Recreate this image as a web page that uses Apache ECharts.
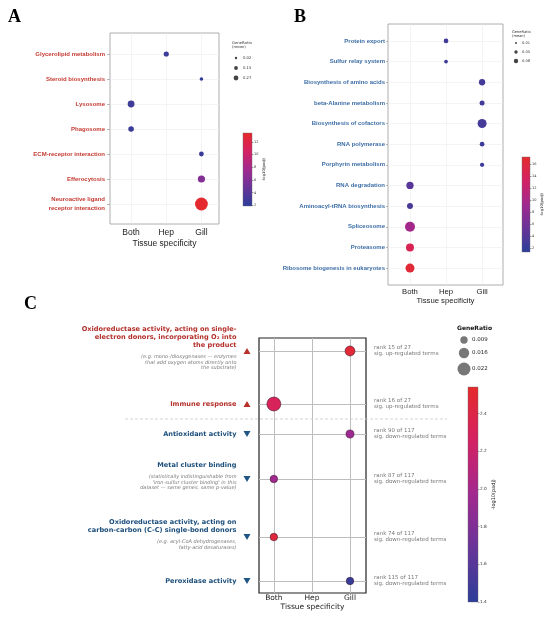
<!DOCTYPE html>
<html>
<head>
<meta charset="utf-8">
<script src="https://cdn.jsdelivr.net/npm/echarts@6/dist/echarts.min.js"></script>
<style>
  html, body { margin: 0; padding: 0; background: #fff; }
  #chart { width: 550px; height: 618px; }
</style>
</head>
<body>
<div id="chart"></div>
<script>
const tissues = ['Both', 'Hep', 'Gill'];

// panel A - up-regulated KEGG terms
const termsA = ['Glycerolipid metabolism', 'Steroid biosynthesis', 'Lysosome', 'Phagosome',
  'ECM-receptor interaction', 'Efferocytosis', 'Neuroactive ligand\nreceptor interaction'];
const tissueA = ['Hep', 'Gill', 'Both', 'Both', 'Gill', 'Gill', 'Gill'];
const ratioA = [0.08, 0.04, 0.12, 0.09, 0.07, 0.13, 0.27];
const padjA = [2.6, 2.2, 2.9, 2.6, 2.5, 6.2, 13.2];
const legendA = [0.02, 0.15, 0.27];
const cbTicksA = [2, 4, 6, 8, 10, 12];

// panel B - down-regulated KEGG terms
const termsB = ['Protein export', 'Sulfur relay system', 'Biosynthesis of amino acids',
  'beta-Alanine metabolism', 'Biosynthesis of cofactors', 'RNA polymerase', 'Porphyrin metabolism',
  'RNA degradation', 'Aminoacyl-tRNA biosynthesis', 'Spliceosome', 'Proteasome',
  'Ribosome biogenesis in eukaryotes'];
const tissueB = ['Hep', 'Hep', 'Gill', 'Gill', 'Gill', 'Gill', 'Gill', 'Both', 'Both', 'Both', 'Both', 'Both'];
const ratioB = [0.027, 0.017, 0.043, 0.03, 0.07, 0.027, 0.023, 0.053, 0.04, 0.08, 0.06, 0.07];
const padjB = [2.6, 2.3, 2.8, 2.6, 3.0, 2.4, 2.4, 4.3, 3.2, 9.5, 14.2, 16.3];
const legendB = [0.01, 0.05, 0.08];
const cbTicksB = [2, 4, 6, 8, 10, 12, 14, 16];

// panel C - GO terms
const termsC = [
  ['Oxidoreductase activity, acting on single-', 'electron donors, incorporating O\u2082 into', 'the product'],
  ['Immune response'],
  ['Antioxidant activity'],
  ['Metal cluster binding'],
  ['Oxidoreductase activity, acting on', 'carbon-carbon (C-C) single-bond donors'],
  ['Peroxidase activity'],
];
const notesC = [
  ['(e.g. mono-/dioxygenases \u2014 enzymes', 'that add oxygen atoms directly onto', 'the substrate)'],
  [],
  [],
  ['(statistically indistinguishable from', "'iron-sulfur cluster binding' in this", 'dataset \u2014 same genes, same p-value)'],
  ['(e.g. acyl-CoA dehydrogenases,', 'fatty-acid desaturases)'],
  [],
];
const dirC = ['up', 'up', 'down', 'down', 'down', 'down'];
const rowPosC = [0, 5.3, 8.3, 12.8, 18.6, 23.0];
const tissueC = ['Gill', 'Both', 'Gill', 'Both', 'Both', 'Gill'];
const ratioC = [0.015, 0.0244, 0.0105, 0.0093, 0.0093, 0.0093];
const padjC = [2.48, 2.3, 1.95, 1.97, 2.45, 1.45];
const rankC = [15, 16, 90, 87, 74, 115];
const rankTotalC = [27, 27, 117, 117, 117, 117];
const legendC = [0.009, 0.016, 0.022];
const cbTicksC = [1.4, 1.6, 1.8, 2.0, 2.2, 2.4];

const cmap = ['#2c3e99', '#683499', '#a1298f', '#d42163', '#e52b2b'];
const sizeA = (r) => 2 + 40 * r;
const sizeB = (r) => 2 + 100 * r;
const sizeC = (r) => 3.5 + 430 * r;

const SANS = 'Liberation Sans';
const DJV = 'DejaVu Sans';
const RED_A = '#c43a32';
const BLUE_B = '#3d6ea6';
const RED_C = '#b3302b';
const BLUE_C = '#1d4f7c';

const gradient = {
  type: 'linear', x: 0, y: 1, x2: 0, y2: 0,
  colorStops: cmap.map((c, i) => ({ offset: i / (cmap.length - 1), color: c })),
};

const toPoints = (terms, tissue, ratio, padj, pos) =>
  terms.map((t, i) => [tissues.indexOf(tissue[i]), pos ? pos[i] : i, ratio[i], padj[i]]);

function dotAxes(gridIndex, xr, yr, terms, st) {
  const idx = terms.map((t, i) => i);
  return {
    x: {
      gridIndex, type: 'value', min: xr[0], max: xr[1],
      axisLine: { show: false, onZero: false },
      axisTick: { show: false, customValues: [0, 1, 2] },
      axisLabel: {
        customValues: [0, 1, 2], formatter: (v) => tissues[Math.round(v)],
        fontSize: st.xFont, color: '#222', margin: st.xMargin, fontFamily: st.font,
      },
      splitLine: { show: true, lineStyle: { color: st.gridColor, width: st.gridWidth } },
      name: 'Tissue specificity', nameLocation: 'middle', nameGap: st.nameGap,
      nameTextStyle: { fontSize: st.xFont, color: '#222', fontFamily: st.font },
    },
    y: {
      gridIndex, type: 'value', inverse: true, min: yr[0], max: yr[1],
      axisLine: { show: false, onZero: false },
      axisTick: {
        show: st.yTick > 0, customValues: st.yPos || idx, length: st.yTick,
        lineStyle: { color: '#888', width: 0.6 },
      },
      axisLabel: {
        show: !!terms.length && st.yLabels !== false, customValues: st.yPos || idx,
        formatter: (v) => terms[Math.round(v)] || '',
        fontSize: 6, fontWeight: 'bold', color: st.labelColor, lineHeight: 9,
        margin: st.yMargin, fontFamily: SANS,
      },
      splitLine: { show: true, lineStyle: { color: st.gridColor, width: st.gridWidth } },
    },
  };
}

function colorbarAxes(gridIndex, min, max, ticks, st) {
  return {
    x: { gridIndex, type: 'category', data: [''], show: false },
    y: {
      gridIndex, type: 'value', min, max, position: 'right',
      axisLine: { show: false, onZero: false },
      axisTick: { show: true, customValues: ticks, length: 1.5, lineStyle: { color: '#444', width: 0.5 } },
      axisLabel: {
        customValues: ticks, formatter: st.fmt, fontSize: st.font, color: '#333',
        margin: 2, fontFamily: DJV,
      },
      splitLine: { show: false },
      name: '-log10(padj)', nameLocation: 'middle', nameGap: st.nameGap,
      nameTextStyle: { fontSize: st.nameFont, color: '#222', fontFamily: DJV },
    },
  };
}

const axA = dotAxes(0, [-0.6, 2.5], [-0.84, 6.8], termsA, {
  xFont: 8.5, xMargin: 4, nameGap: 15, font: SANS, gridColor: '#ececec', gridWidth: 0.6,
  yTick: 3, yMargin: 5, labelColor: RED_A,
});
const axB = dotAxes(1, [-0.61, 2.58], [-0.82, 11.82], termsB, {
  xFont: 7.7, xMargin: 3, nameGap: 12, font: SANS, gridColor: '#ececec', gridWidth: 0.6,
  yTick: 2, yMargin: 3, labelColor: BLUE_B,
});
const axC = dotAxes(2, [-0.39, 2.42], [-1.3, 24.2], [], {
  xFont: 7.5, xMargin: 1, nameGap: 9, font: DJV, gridColor: '#bdbdbd', gridWidth: 1,
  yTick: 0, yMargin: 0, labelColor: '#000', yPos: rowPosC, yLabels: false,
});
const cbA = colorbarAxes(4, 1.9, 13.4, cbTicksA, { fmt: (v) => String(v), font: 3.5, nameFont: 3.8, nameGap: 9 });
const cbB = colorbarAxes(5, 1.3, 17.2, cbTicksB, { fmt: (v) => String(v), font: 3.5, nameFont: 3.8, nameGap: 9 });
const cbC = colorbarAxes(6, 1.4, 2.54, cbTicksC, { fmt: (v) => v.toFixed(1), font: 4.3, nameFont: 5, nameGap: 12 });

const frame = (l, t, w, h, color, width) => ({
  left: l, top: t, width: w, height: h, show: true, borderColor: color, borderWidth: width,
  backgroundColor: 'transparent', outerBoundsMode: 'none',
});

const option = {
  animation: false,
  backgroundColor: '#fff',
  grid: [
    frame(110, 33, 109, 191, '#9a9a9a', 0.8),
    frame(388, 24, 115, 261, '#9a9a9a', 0.8),
    frame(259, 338, 107, 255, '#222', 1.2),
    { left: 242, top: 338, width: 10, height: 255, outerBoundsMode: 'none' },
    Object.assign(frame(243, 133, 9, 73, '#666', 0.4), { backgroundColor: gradient }),
    Object.assign(frame(522, 157, 8, 95, '#666', 0.4), { backgroundColor: gradient }),
    Object.assign(frame(468, 387, 10, 215, '#666', 0.4), { backgroundColor: gradient }),
  ],
  xAxis: [axA.x, axB.x, axC.x,
    { gridIndex: 3, type: 'value', min: 0, max: 1, show: false },
    cbA.x, cbB.x, cbC.x],
  yAxis: [axA.y, axB.y, axC.y,
    { gridIndex: 3, type: 'value', inverse: true, min: -1.3, max: 24.2, show: false },
    cbA.y, cbB.y, cbC.y],
  visualMap: [
    { type: 'continuous', show: false, seriesIndex: 0, dimension: 3, min: 1.9, max: 13.4, inRange: { color: cmap } },
    { type: 'continuous', show: false, seriesIndex: 1, dimension: 3, min: 1.3, max: 17.2, inRange: { color: cmap } },
    { type: 'continuous', show: false, seriesIndex: 2, dimension: 3, min: 1.4, max: 2.54, inRange: { color: cmap } },
  ],
  series: [
    {
      type: 'scatter', xAxisIndex: 0, yAxisIndex: 0,
      data: toPoints(termsA, tissueA, ratioA, padjA),
      symbolSize: (d) => sizeA(d[2]),
      itemStyle: { opacity: 1 },
    },
    {
      type: 'scatter', xAxisIndex: 1, yAxisIndex: 1,
      data: toPoints(termsB, tissueB, ratioB, padjB),
      symbolSize: (d) => sizeB(d[2]),
      itemStyle: { opacity: 1 },
    },
    {
      type: 'scatter', xAxisIndex: 2, yAxisIndex: 2,
      data: toPoints(termsC, tissueC, ratioC, padjC, rowPosC),
      symbolSize: (d) => sizeC(d[2]),
      itemStyle: { borderColor: 'rgba(50,20,40,0.75)', borderWidth: 0.7, opacity: 1 },
    },
    {
      // direction triangles + term labels
      type: 'scatter', xAxisIndex: 3, yAxisIndex: 3, silent: true,
      symbol: 'triangle', symbolSize: [7, 6],
      data: rowPosC.map((y, i) => ({
        value: [0.5, y],
        symbolRotate: dirC[i] === 'up' ? 0 : 180,
        itemStyle: { color: dirC[i] === 'up' ? '#b8312a' : '#1e5585', opacity: 1 },
        label: { offset: [0, notesC[i].length ? -3 : 0] },
      })),
      label: {
        show: true, position: 'left', distance: 7, align: 'right',
        formatter: (p) => {
          const i = p.dataIndex;
          const key = dirC[i] === 'up' ? 'tu' : 'td';
          const lines = termsC[i].map((s) => '{' + key + '|' + s + '}');
          if (notesC[i].length) {
            lines.push('{g| }');
            notesC[i].forEach((s) => lines.push('{n|' + s + '}'));
          }
          return lines.join('\n');
        },
        rich: {
          tu: { color: RED_C, fontWeight: 'bold', fontSize: 6.6, lineHeight: 8, fontFamily: DJV, align: 'right' },
          td: { color: BLUE_C, fontWeight: 'bold', fontSize: 6.6, lineHeight: 8, fontFamily: DJV, align: 'right' },
          g: { fontSize: 1, lineHeight: 5, align: 'right' },
          n: { color: '#7a7a7a', fontStyle: 'italic', fontSize: 5, lineHeight: 5.6, fontFamily: DJV, align: 'right' },
        },
      },
    },
    {
      // rank annotations at right of panel C
      type: 'scatter', xAxisIndex: 2, yAxisIndex: 2, silent: true,
      symbolSize: 0.1, itemStyle: { color: 'transparent' },
      data: rowPosC.map((y) => [2.42, y]),
      label: {
        show: true, position: 'right', distance: 8,
        formatter: (p) => {
          const i = p.dataIndex;
          return 'rank ' + rankC[i] + ' of ' + rankTotalC[i] + '\nsig. ' +
            (dirC[i] === 'up' ? 'up' : 'down') + '-regulated terms';
        },
        color: '#555', fontSize: 5.5, lineHeight: 6, fontFamily: DJV,
      },
    },
  ],
};

const chart = echarts.init(document.getElementById('chart'));
chart.setOption(option);

// separator between up- and down-regulated GO terms
const lastUp = dirC.lastIndexOf('up');
const sepPos = (rowPosC[lastUp] + rowPosC[lastUp + 1]) / 2;
const sepY = chart.convertToPixel({ gridIndex: 2 }, [0, sepPos])[1];

const txt = (x, y, text, st) => ({
  type: 'text', x, y, silent: true,
  style: Object.assign({ text, fill: '#333', fontFamily: DJV, verticalAlign: 'middle' }, st),
});
const dot = (x, y, r, fill) => ({ type: 'circle', silent: true, shape: { cx: x, cy: y, r }, style: { fill } });

const graphic = [
  txt(8, 17, 'A', { fontSize: 18, fontWeight: 'bold', fontFamily: 'Liberation Serif', fill: '#000' }),
  txt(294, 17, 'B', { fontSize: 18, fontWeight: 'bold', fontFamily: 'Liberation Serif', fill: '#000' }),
  txt(24, 304, 'C', { fontSize: 18, fontWeight: 'bold', fontFamily: 'Liberation Serif', fill: '#000' }),
  {
    type: 'line', silent: true, shape: { x1: 125, y1: sepY, x2: 447, y2: sepY },
    style: { stroke: '#c8c8c8', lineWidth: 0.8, lineDash: [3, 2] },
  },
  // legend A
  txt(232, 43, 'GeneRatio', { fontSize: 3.8 }),
  txt(232, 47.5, '(mean)', { fontSize: 3.8 }),
  // legend B
  txt(512, 32, 'GeneRatio', { fontSize: 3.6 }),
  txt(512, 36.3, '(mean)', { fontSize: 3.6 }),
  // legend C
  txt(457, 328, 'GeneRatio', { fontSize: 6, fontWeight: 'bold', fill: '#111' }),
];
const legARad = [1.2, 1.9, 2.4];
const legAY = [58, 68, 78];
legendA.forEach((v, i) => {
  graphic.push(dot(236, legAY[i], legARad[i], '#444'));
  graphic.push(txt(243, legAY[i], String(v), { fontSize: 3.8 }));
});
const legBRad = [1, 1.7, 2.2];
const legBY = [43, 52, 61];
legendB.forEach((v, i) => {
  graphic.push(dot(516, legBY[i], legBRad[i], '#444'));
  graphic.push(txt(522, legBY[i], v.toFixed(2), { fontSize: 3.6 }));
});
const legCY = [340, 353, 369];
legendC.forEach((v, i) => {
  graphic.push(dot(464, legCY[i], sizeC(v) / 2, '#777'));
  graphic.push(txt(472, legCY[i], v.toFixed(3), { fontSize: 5.5, fill: '#222' }));
});

chart.setOption({ graphic });
</script>
</body>
</html>
